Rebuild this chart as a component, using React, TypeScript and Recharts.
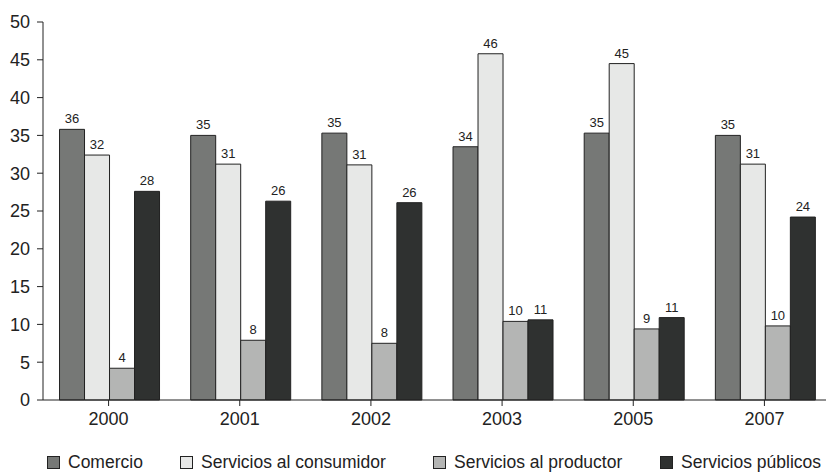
import React from "react";
import {Bar, BarChart, LabelList, Legend, XAxis, YAxis} from "recharts";

const years = ["2000", "2001", "2002", "2003", "2005", "2007"];
const comercio = [35.8, 35.0, 35.3, 33.5, 35.3, 35.0];
const consumidor = [32.4, 31.2, 31.1, 45.8, 44.5, 31.2];
const productor = [4.2, 7.9, 7.5, 10.4, 9.4, 9.8];
const publicos = [27.6, 26.3, 26.1, 10.6, 10.9, 24.2];
const yTicks = [0, 5, 10, 15, 20, 25, 30, 35, 40, 45, 50];

const series = [
    {key: "comercio", name: "Comercio", color: "#767876"},
    {key: "consumidor", name: "Servicios al consumidor", color: "#e7e8e7"},
    {key: "productor", name: "Servicios al productor", color: "#b4b5b4"},
    {key: "publicos", name: "Servicios públicos", color: "#2f3130"},
];

const data = years.map((year, i) => ({
    year,
    comercio: comercio[i],
    consumidor: consumidor[i],
    productor: productor[i],
    publicos: publicos[i],
}));

const font = "'Liberation Sans', Arial, sans-serif";
const ink = "#222";
// legend item slots, so the swatches line up with the original
const slotWidths = [133, 253, 227, 166];

function LegendRow() {
    return (
        <div style={{display: "flex", whiteSpace: "nowrap", paddingLeft: 47, fontFamily: font, fontSize: 17.5, color: ink, lineHeight: "20px"}}>
            {series.map((s, i) => (
                <div key={s.key} style={{display: "flex", alignItems: "center", flexShrink: 0, width: slotWidths[i]}}>
                    <span style={{display: "inline-block", width: 11, height: 11, background: s.color, border: "1px solid #222", marginRight: 8}} />
                    <span>{s.name}</span>
                </div>
            ))}
        </div>
    );
}

export default function App() {
    return (
        <div style={{position: "fixed", left: 0, top: 0, width: 826, height: 473, overflow: "hidden", background: "#fff"}}>
            <BarChart
                width={832}
                height={473}
                data={data}
                margin={{top: 22, right: 2, left: 0, bottom: 20}}
                barCategoryGap="12.6%"
                barGap={0}
            >
                <XAxis
                    dataKey="year"
                    height={30}
                    tickSize={6}
                    tickMargin={6}
                    stroke={ink}
                    tick={{fill: ink, fontSize: 18, fontFamily: font}}
                />
                <YAxis
                    width={43}
                    domain={[0, 50]}
                    ticks={yTicks}
                    interval={0}
                    tickSize={6}
                    tickMargin={7}
                    stroke={ink}
                    tick={{fill: ink, fontSize: 18, fontFamily: font}}
                />
                <Legend
                    verticalAlign="bottom"
                    height={23}
                    wrapperStyle={{left: 0, bottom: -2, width: 832}}
                    content={() => <LegendRow />}
                />
                {series.map((s) => (
                    <Bar key={s.key} dataKey={s.key} name={s.name} fill={s.color} stroke="#222" strokeWidth={1} isAnimationActive={false}>
                        <LabelList
                            dataKey={s.key}
                            position="top"
                            offset={6}
                            formatter={(v: any) => Math.round(Number(v))}
                            style={{fill: ink, fontSize: 13, fontFamily: font}}
                        />
                    </Bar>
                ))}
            </BarChart>
        </div>
    );
}
